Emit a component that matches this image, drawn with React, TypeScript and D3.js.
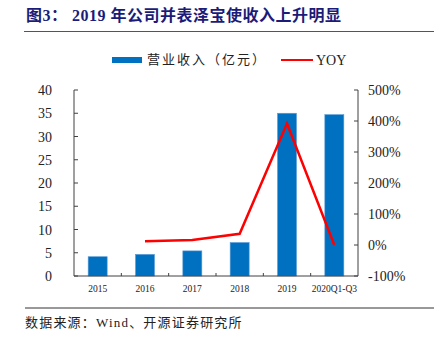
import React from "react";
import * as d3 from "d3";

const categories = ["2015", "2016", "2017", "2018", "2019", "2020Q1-Q3"];
const revenue = [4.15, 4.65, 5.4, 7.2, 35.0, 34.7];
const yoy = [null, 12, 16, 36, 392, 0];
const leftTicks = [0, 5, 10, 15, 20, 25, 30, 35, 40];
const rightTicks = [-100, 0, 100, 200, 300, 400, 500];

const W = 434, H = 341;
const L = 74, R = 358, T = 90, B = 276;
const serif = "'Times New Roman', 'Liberation Serif', 'Noto Sans CJK SC', serif";

export default function App() {
  const xb = d3.scaleBand<string>().domain(categories).range([L, R]);
  const yL = d3.scaleLinear().domain([0, 40]).range([B, T]);
  const yR = d3.scaleLinear().domain([-100, 500]).range([B, T]);
  const pts = categories.map((c, i) => ({ c, v: yoy[i] })).filter((d) => d.v !== null) as { c: string; v: number }[];
  const line = d3.line<{ c: string; v: number }>()
    .x((d) => (xb(d.c) as number) + xb.bandwidth() / 2)
    .y((d) => yR(d.v));
  const axisColor = "#404040";
  return (
    <svg width={W} height={H} style={{ position: "absolute", left: 0, top: 0, background: "#fff" }}>
      <text x={26} y={21} fontFamily={serif} fontWeight="bold" fontSize={16} letterSpacing={0.5} fill="#1b1b78">图3： 2019 年公司并表泽宝使收入上升明显</text>
      <line x1={24} x2={434} y1={31.5} y2={31.5} stroke="#555" strokeWidth={1} />
      {/* legend */}
      <rect x={112} y={57} width={30} height={6} fill="#0070c0" />
      <text x={147} y={64} fontFamily={serif} fontSize={13} letterSpacing={2} fill="#222">营业收入（亿元）</text>
      <line x1={281} x2={313} y1={60} y2={60} stroke="#ff0000" strokeWidth={2} />
      <text x={316} y={64.5} fontFamily={serif} fontSize={14} fill="#222">YOY</text>
      {/* bars */}
      {categories.map((c, i) => {
        const bw = 19;
        const cx = (xb(c) as number) + xb.bandwidth() / 2;
        return <rect key={c} x={cx - bw / 2} y={yL(revenue[i])} width={bw} height={B - yL(revenue[i])} fill="#0070c0" stroke="#5b9bd5" strokeWidth={0.6} />;
      })}
      {/* left axis */}
      <line x1={L} x2={L} y1={T} y2={B} stroke={axisColor} />
      {leftTicks.map((t) => (
        <g key={t}>
          <line x1={L} x2={L + 4} y1={yL(t)} y2={yL(t)} stroke={axisColor} />
          <text x={L - 22} y={yL(t) + 5} textAnchor="end" fontFamily={serif} fontSize={14} fill="#222">{t}</text>
        </g>
      ))}
      {/* right axis */}
      <line x1={R} x2={R} y1={T} y2={B} stroke={axisColor} />
      {rightTicks.map((t) => (
        <g key={t}>
          <line x1={R - 4} x2={R} y1={yR(t)} y2={yR(t)} stroke={axisColor} />
          <text x={R + 10} y={yR(t) + 5} textAnchor="start" fontFamily={serif} fontSize={14} fill="#222">{t}%</text>
        </g>
      ))}
      {/* x axis */}
      <line x1={L} x2={R} y1={B} y2={B} stroke={axisColor} />
      {categories.slice(1).map((c) => (
        <line key={c} x1={xb(c) as number} x2={xb(c) as number} y1={B} y2={B - 3} stroke={axisColor} />
      ))}
      {categories.map((c) => (
        <text key={c} x={(xb(c) as number) + xb.bandwidth() / 2} y={292} textAnchor="middle" fontFamily={serif} fontSize={9.5} fill="#222">{c}</text>
      ))}
      {/* line */}
      <path d={line(pts) as string} fill="none" stroke="#ff0000" strokeWidth={2.5} strokeLinejoin="miter" />
      <line x1={25} x2={434} y1={308} y2={308} stroke="#333" strokeWidth={1} />
      <text x={25} y={327} fontFamily={serif} fontSize={13} letterSpacing={1.2} fill="#222">数据来源：Wind、开源证券研究所</text>
    </svg>
  );
}
